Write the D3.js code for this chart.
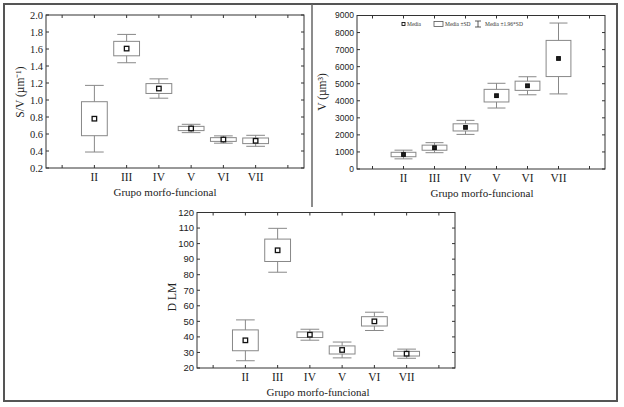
<!DOCTYPE html>
<html>
<head>
<meta charset="utf-8">
<script src="https://cdn.jsdelivr.net/npm/d3@7"></script>
<style>
  html, body { margin: 0; padding: 0; background: #fff; }
  svg { display: block; }
  .tick-label { font-family: 'Liberation Serif', serif; fill: #222; }
  .title { font-family: 'Liberation Serif', serif; fill: #222; }
</style>
</head>
<body>
<svg id="chart" width="624" height="407"></svg>
<script>
// groups shown on the x axis (the first and last slots are empty)
const groups = ['II', 'III', 'IV', 'V', 'VI', 'VII'];
const slots = ['I', 'II', 'III', 'IV', 'V', 'VI', 'VII', 'VIII'];

// S/V (um^-1): mean and SD per group
const svMean = [0.78, 1.605, 1.135, 0.665, 0.535, 0.52];
const svSd = [0.20, 0.085, 0.058, 0.025, 0.022, 0.033];
const svTicks = [0.2, 0.4, 0.6, 0.8, 1.0, 1.2, 1.4, 1.6, 1.8, 2.0];

// V (um^3): mean and SD per group
const vMean = [850, 1250, 2440, 4300, 4880, 6480];
const vSd = [130, 150, 210, 370, 270, 1060];
const vTicks = [0, 1000, 2000, 3000, 4000, 5000, 6000, 7000, 8000, 9000];

// D LM: mean and SD per group
const dlmMean = [37.8, 95.7, 41.4, 31.6, 50, 29.2];
const dlmSd = [6.7, 7.2, 1.8, 2.6, 3, 1.5];
const dlmTicks = [20, 30, 40, 50, 60, 70, 80, 90, 100, 110, 120];

const legendItems = ['Media', 'Media \u00b1SD', 'Media \u00b11.96*SD'];

const svg = d3.select('#chart');

// outer frame and the seams between the pasted panels
svg.append('rect')
  .attr('x', 4).attr('y', 4).attr('width', 613).attr('height', 397)
  .attr('fill', 'none').attr('stroke', '#555').attr('stroke-width', 2);
svg.append('line')
  .attr('x1', 312).attr('x2', 312).attr('y1', 4).attr('y2', 207)
  .attr('stroke', '#666').attr('stroke-width', 1.5);

function panel (opts) {
  const {left, right, top, bottom} = opts;
  const g = svg.append('g');

  const x = d3.scalePoint().domain(slots).range([left, right]).padding(0.5);
  const y = d3.scaleLinear().domain(opts.domain).range([bottom, top]);
  const step = x.step();
  const boxW = step * 0.8;
  const capW = step * 0.58;

  // plot frame
  g.append('rect')
    .attr('x', left).attr('y', top)
    .attr('width', right - left).attr('height', bottom - top)
    .attr('fill', 'none').attr('stroke', '#333').attr('stroke-width', 1);

  // inner ticks on all four sides
  const tickLen = 3;
  g.selectAll('.xt-b').data(slots).enter().append('line')
    .attr('x1', d => x(d)).attr('x2', d => x(d))
    .attr('y1', bottom).attr('y2', bottom - tickLen)
    .attr('stroke', '#333');
  g.selectAll('.xt-t').data(slots).enter().append('line')
    .attr('x1', d => x(d)).attr('x2', d => x(d))
    .attr('y1', top).attr('y2', top + tickLen)
    .attr('stroke', '#333');
  g.selectAll('.yt-l').data(opts.ticks).enter().append('line')
    .attr('x1', left).attr('x2', left + tickLen)
    .attr('y1', d => y(d)).attr('y2', d => y(d))
    .attr('stroke', '#333');
  g.selectAll('.yt-r').data(opts.ticks).enter().append('line')
    .attr('x1', right).attr('x2', right - tickLen)
    .attr('y1', d => y(d)).attr('y2', d => y(d))
    .attr('stroke', '#333');

  // tick labels
  g.selectAll('.yl').data(opts.ticks).enter().append('text')
    .attr('class', 'tick-label')
    .attr('x', left - 3).attr('y', d => y(d)).attr('dy', '0.35em')
    .attr('text-anchor', 'end')
    .style('font-family', opts.tickFont)
    .style('font-size', opts.tickSize + 'px')
    .text(opts.format);
  g.selectAll('.xl').data(groups).enter().append('text')
    .attr('class', 'tick-label')
    .attr('x', d => x(d)).attr('y', bottom + 13)
    .attr('text-anchor', 'middle')
    .style('font-size', '11.5px')
    .text(d => d);

  // axis titles
  g.append('text').attr('class', 'title')
    .attr('x', opts.xTitleX).attr('y', bottom + 28)
    .attr('text-anchor', 'middle').style('font-size', '11px')
    .text('Grupo morfo-funcional');
  g.append('text').attr('class', 'title')
    .attr('transform', `translate(${opts.yTitleX},${opts.yTitleY}) rotate(-90)`)
    .attr('text-anchor', 'middle').style('font-size', '11.5px')
    .text(opts.yTitle);

  const rows = groups.map((grp, i) => ({grp, mean: opts.mean[i], sd: opts.sd[i]}));

  const box = g.selectAll('.box').data(rows).enter().append('g');

  // whiskers: mean +/- 1.96*SD
  box.append('line')
    .attr('x1', d => x(d.grp)).attr('x2', d => x(d.grp))
    .attr('y1', d => y(d.mean + 1.96 * d.sd)).attr('y2', d => y(d.mean - 1.96 * d.sd))
    .attr('stroke', '#888').attr('stroke-width', 1);
  box.append('line')
    .attr('x1', d => x(d.grp) - capW / 2).attr('x2', d => x(d.grp) + capW / 2)
    .attr('y1', d => y(d.mean + 1.96 * d.sd)).attr('y2', d => y(d.mean + 1.96 * d.sd))
    .attr('stroke', '#888').attr('stroke-width', 1);
  box.append('line')
    .attr('x1', d => x(d.grp) - capW / 2).attr('x2', d => x(d.grp) + capW / 2)
    .attr('y1', d => y(d.mean - 1.96 * d.sd)).attr('y2', d => y(d.mean - 1.96 * d.sd))
    .attr('stroke', '#888').attr('stroke-width', 1);

  // box: mean +/- SD
  box.append('rect')
    .attr('x', d => x(d.grp) - boxW / 2).attr('width', boxW)
    .attr('y', d => y(d.mean + d.sd))
    .attr('height', d => y(d.mean - d.sd) - y(d.mean + d.sd))
    .attr('fill', '#fff').attr('stroke', '#888').attr('stroke-width', 1);

  // mean marker
  const m = opts.markerSize;
  box.append('rect')
    .attr('x', d => x(d.grp) - m / 2).attr('y', d => y(d.mean) - m / 2)
    .attr('width', m).attr('height', m)
    .attr('fill', opts.markerFill).attr('stroke', '#111').attr('stroke-width', 1.3);

  return g;
}

panel({
  left: 46, right: 304, top: 15, bottom: 168,
  domain: [0.2, 2.0], ticks: svTicks, format: d3.format('.1f'),
  tickFont: "'Liberation Serif', serif", tickSize: 10.5,
  mean: svMean, sd: svSd,
  yTitle: 'S/V (\u00b5m\u207b\u00b9)', yTitleX: 24, yTitleY: 92, xTitleX: 165,
  markerSize: 4.5, markerFill: '#fff'
});

const p2 = panel({
  left: 357, right: 605, top: 15.5, bottom: 169,
  domain: [0, 9000], ticks: vTicks, format: d => d,
  tickFont: "'Liberation Sans', sans-serif", tickSize: 8.5,
  mean: vMean, sd: vSd,
  yTitle: 'V (\u00b5m\u00b3)', yTitleX: 326, yTitleY: 92, xTitleX: 482,
  markerSize: 3.5, markerFill: '#222'
});

panel({
  left: 197, right: 455, top: 212.5, bottom: 368,
  domain: [20, 120], ticks: dlmTicks, format: d => d,
  tickFont: "'Liberation Sans', sans-serif", tickSize: 9.5,
  mean: dlmMean, sd: dlmSd,
  yTitle: 'D LM', yTitleX: 176, yTitleY: 297, xTitleX: 318,
  markerSize: 4.5, markerFill: '#fff'
});

// legend of the V panel
const legend = p2.append('g').attr('transform', 'translate(402,24)');
const legendX = [0, 32, 72];
const item = legend.selectAll('.item').data(legendItems).enter().append('g')
  .attr('transform', (d, i) => `translate(${legendX[i]},0)`);
item.append('text')
  .attr('x', (d, i) => i === 0 ? 5 : 11).attr('dy', '0.35em')
  .style('font-family', "'Liberation Serif', serif").style('font-size', '5.5px')
  .attr('fill', '#333')
  .text(d => d);
legend.append('rect')
  .attr('x', 0).attr('y', -1.5).attr('width', 3).attr('height', 3)
  .attr('fill', '#fff').attr('stroke', '#111').attr('stroke-width', 0.9);
legend.append('rect')
  .attr('x', legendX[1]).attr('y', -2.5).attr('width', 9).attr('height', 5)
  .attr('fill', '#fff').attr('stroke', '#555').attr('stroke-width', 0.8);
const wx = legendX[2] + 4;
legend.append('path')
  .attr('d', `M${wx - 3},-3H${wx + 3}M${wx},-3V3M${wx - 3},3H${wx + 3}`)
  .attr('fill', 'none').attr('stroke', '#333').attr('stroke-width', 0.8);
</script>
</body>
</html>
